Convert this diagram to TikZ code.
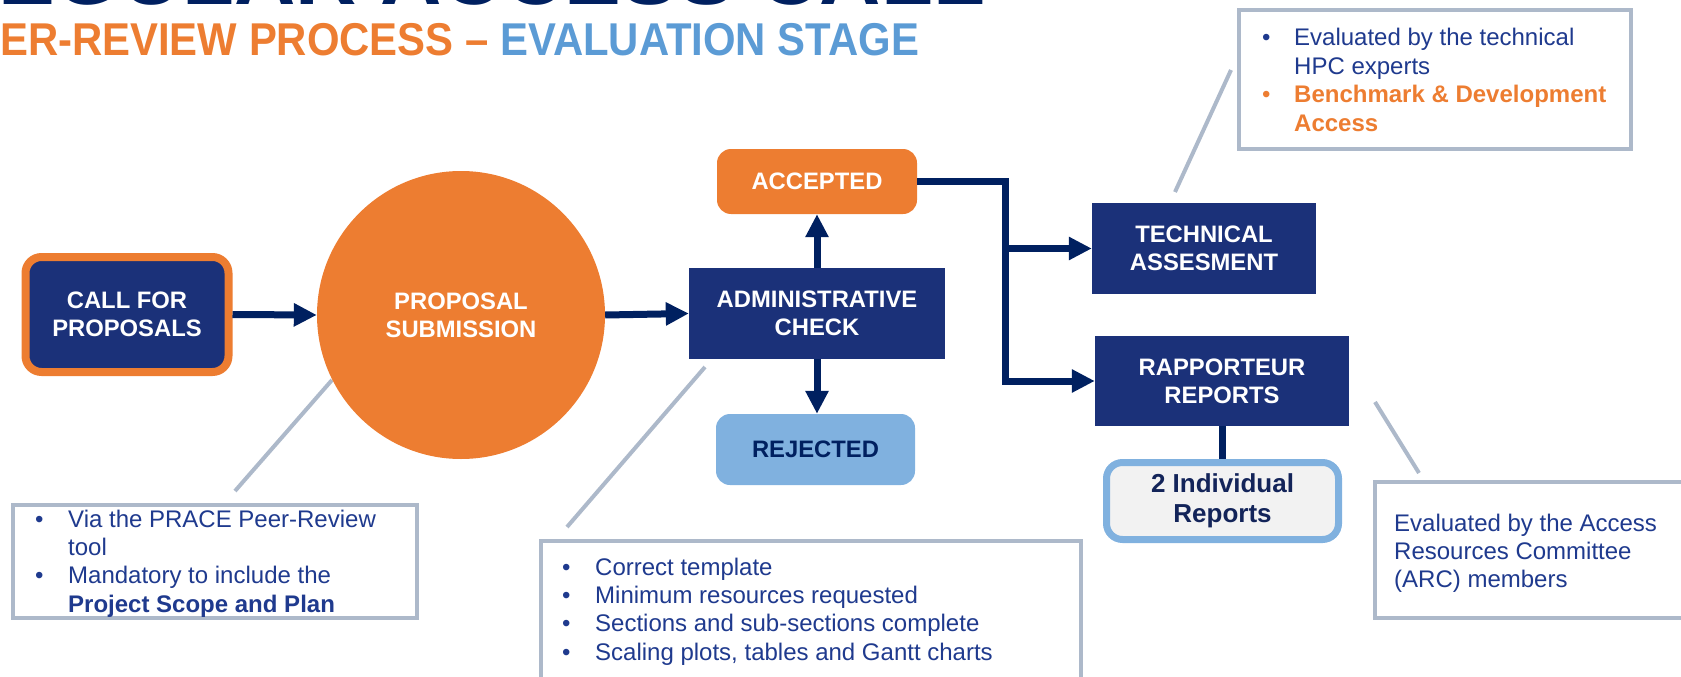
\documentclass[tikz,border=0pt]{standalone}
\usepackage{fontspec}
\setmainfont{Liberation Sans}
\usetikzlibrary{arrows.meta,calc}
\definecolor{navy}{HTML}{1B3179}
\definecolor{arrowc}{HTML}{002060}
\definecolor{orng}{HTML}{ED7D31}
\definecolor{ltblue}{HTML}{80B1DF}
\definecolor{ttlblue}{HTML}{5B9BD5}
\definecolor{callgray}{HTML}{ADB9CA}
\definecolor{calltext}{HTML}{1F3A8E}
\definecolor{indtext}{HTML}{132459}
\definecolor{panel}{HTML}{F2F2F2}
\begin{document}
\begin{tikzpicture}[x=1pt,y=-1pt,
  boxtext/.style={font=\fontsize{23.8}{28}\selectfont\bfseries, align=center, inner sep=0pt},
  navybox/.style={boxtext, fill=navy, text=white},
  arr/.style={line width=7pt, draw=arrowc, -{Triangle[length=23pt,width=22pt]}},
  plainconn/.style={line width=7pt, draw=arrowc},
  callout/.style={draw=callgray, line width=4pt, fill=white, inner sep=0pt},
  leader/.style={draw=callgray, line width=4pt},
  calltxt/.style={anchor=base west, inner sep=0pt, text=calltext, font=\fontsize{24}{28.4}\selectfont}
]
\useasboundingbox (0,0) rectangle (1681,677);

% title
\node[anchor=base west, inner sep=0pt, text=arrowc, font=\fontsize{85}{90}\selectfont\bfseries] (title1) at (-2,5) {EGULAR ACCESS CALL};
\node[anchor=base west, inner sep=0pt, font=\fontsize{46}{50}\selectfont\bfseries] (title2) at (0,56)
  {\scalebox{0.91}[1]{\textcolor{orng}{ER-REVIEW PROCESS –} \textcolor{ttlblue}{EVALUATION STAGE}}};

% callout boxes (behind)
\node[callout, minimum width=392pt, minimum height=139pt] (cTR) at (1435,79.5) {};
\node[callout, minimum width=404pt, minimum height=113pt] (cBL) at (215,561.5) {};
\node[callout, minimum width=540pt, minimum height=159pt] (cBM) at (811,620.5) {};
\node[callout, minimum width=325pt, minimum height=136pt] (cBR) at (1537.5,550) {};

\node[calltxt] (tTR) at (1262,46) {\begin{tabular}[t]{@{}p{32pt}@{}l@{}}
\textbullet & Evaluated by the technical\\
 & HPC experts\\
\textcolor{orng}{\textbullet} & \textcolor{orng}{\bfseries Benchmark \& Development}\\
 & \textcolor{orng}{\bfseries Access}
\end{tabular}};
\node[calltxt] (tBL) at (35,527) {\begin{tabular}[t]{@{}p{33pt}@{}l@{}}
\textbullet & Via the PRACE Peer-Review\\
 & tool\\
\textbullet & Mandatory to include the\\
 & \bfseries Project Scope and Plan
\end{tabular}};
\node[calltxt] (tBM) at (562,575) {\begin{tabular}[t]{@{}p{33pt}@{}l@{}}
\textbullet & Correct template\\
\textbullet & Minimum resources requested\\
\textbullet & Sections and sub-sections complete\\
\textbullet & Scaling plots, tables and Gantt charts
\end{tabular}};
\node[calltxt, font=\fontsize{24}{28}\selectfont] (tBR) at (1394,531) {\begin{tabular}[t]{@{}l@{}}
Evaluated by the Access\\
Resources Committee\\
(ARC) members
\end{tabular}};

% leader lines
\coordinate (lTRa) at (1231,70);  \coordinate (lTRb) at (1175,192);
\coordinate (lBLa) at (332,380);  \coordinate (lBLb) at (235,491);
\coordinate (lBMa) at (705,367);  \coordinate (lBMb) at (567,527);
\coordinate (lBRa) at (1375,402); \coordinate (lBRb) at (1419,473);
\draw[leader] (lTRa) -- (lTRb);
\draw[leader] (lBLa) -- (lBLb);
\draw[leader] (lBMa) -- (lBMb);
\draw[leader] (lBRa) -- (lBRb);

% main nodes
\node[navybox, draw=orng, line width=8pt, rounded corners=16pt, minimum width=203pt, minimum height=115pt] (call) at (127,314.5) {CALL FOR\\PROPOSALS};
\node[boxtext, circle, fill=orng, text=white, minimum size=288pt] (sub) at (461,315) {PROPOSAL\\SUBMISSION};
\node[navybox, minimum width=256pt, minimum height=91pt] (adm) at (817,313.5) {ADMINISTRATIVE\\CHECK};
\node[boxtext, fill=orng, text=white, rounded corners=14pt, minimum width=200pt, minimum height=65pt] (acc) at (817,181.5) {ACCEPTED};
\node[boxtext, fill=ltblue, text=arrowc, rounded corners=14pt, minimum width=199pt, minimum height=71pt] (rej) at (815.5,449.5) {REJECTED};
\node[navybox, minimum width=224pt, minimum height=91pt] (tech) at (1204,248.5) {TECHNICAL\\ASSESMENT};
\node[navybox, minimum width=254pt, minimum height=90pt] (rap) at (1222,381) {RAPPORTEUR\\REPORTS};
\node[boxtext, font=\fontsize{26}{30}\selectfont\bfseries, text=indtext, fill=panel, draw=ltblue, line width=7pt, rounded corners=16pt, minimum width=232pt, minimum height=77pt] (ind) at (1222.5,501) {2 Individual\\Reports};

% connectors
\draw[arr] (call.east) -- (sub.west);
\draw[arr] (sub.east) -- (adm.west);
\draw[arr] (adm.north) -- (acc.south);
\draw[arr] (adm.south) -- (adm.south |- rej.north);
\coordinate (jx) at (1005,0);
\draw[arr, line join=miter] (acc.east) -| (jx |- tech.west) -- (tech.west);
\draw[arr, line join=miter] (jx |- tech.west) |- (rap.west);
\draw[plainconn] (rap.south) -- (rap.south |- ind.north);
\end{tikzpicture}
\end{document}
